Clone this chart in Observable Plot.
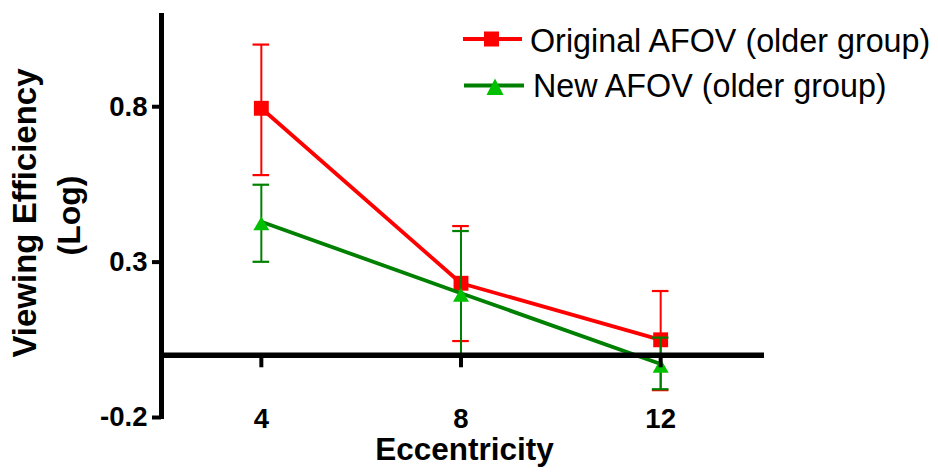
<!DOCTYPE html>
<html><head><meta charset="utf-8">
<script src="https://cdn.jsdelivr.net/npm/d3@7"></script>
<script src="https://cdn.jsdelivr.net/npm/@observablehq/plot@0.6"></script>
<style>
html,body{margin:0;padding:0;background:#fff;}
#wrap{position:relative;width:938px;height:476px;}
#legend{position:absolute;left:0;top:0;pointer-events:none;}
</style></head><body>
<div id="wrap"></div>
<script>
// ---- data ----
const eccentricity = [4, 8, 12];
const originalMean = [0.795, 0.232, 0.05];
const originalLow  = [0.58, 0.046, -0.112];
const originalHigh = [1.0, 0.416, 0.207];
const newMean = [0.43, 0.20, -0.028];
const newLow  = [0.301, 0.0, -0.109];
const newHigh = [0.549, 0.40, 0.057];
const xTickValues = [4, 8, 12];
const yTickValues = [-0.2, 0.3, 0.8];
const seriesNames = ["Original AFOV (older group)", "New AFOV (older group)"];
const xTitle = "Eccentricity";
const yTitleMain = "Viewing Efficiency";
const yTitleSub = "(Log)";
const xDomain = [2, 14];
const yDomain = [-0.2, 1.1];

const toRows = (name, mean, lo, hi) =>
  eccentricity.map((x, i) => ({series: name, x, y: mean[i], lo: lo[i], hi: hi[i]}));
const origRows = toRows(seriesNames[0], originalMean, originalLow, originalHigh);
const newRows = toRows(seriesNames[1], newMean, newLow, newHigh);

const RED = "#ff0000", GREEN_LINE = "#008000", GREEN_FILL = "#00c000";

function seriesMarks(data, lineColor, markerColor, symbol, r, markerDy) {
  return [
    Plot.ruleX(data, {x: "x", y1: "lo", y2: "hi", stroke: lineColor, strokeWidth: 2}),
    Plot.ruleY(data, {x1: "x", x2: "x", y: "hi", stroke: lineColor, strokeWidth: 2.2, insetLeft: -8.3, insetRight: -8.3}),
    Plot.ruleY(data, {x1: "x", x2: "x", y: "lo", stroke: lineColor, strokeWidth: 2.2, insetLeft: -8.3, insetRight: -8.3}),
    Plot.line(data, {x: "x", y: "y", stroke: lineColor, strokeWidth: 3.8}),
    Plot.dot(data, {x: "x", y: "y", symbol, r, dy: markerDy, fill: markerColor, stroke: "none"})
  ];
}

const chart = Plot.plot({
  width: 938,
  height: 476,
  marginLeft: 161,
  marginRight: 178,
  marginTop: 13,
  marginBottom: 59,
  x: {domain: xDomain},
  y: {domain: yDomain},
  style: {fontFamily: "'Liberation Sans', Arial, sans-serif", background: "white", color: "black"},
  marks: [
    ...seriesMarks(origRows, RED, RED, "square", 8.4, 0),
    ...seriesMarks(newRows, GREEN_LINE, GREEN_FILL, "triangle", 5.95, 4),
    // zero line and its ticks
    Plot.ruleY([0], {stroke: "black", strokeWidth: 5.5, insetRight: -4}),
    Plot.ruleX(xTickValues, {x: d => d, y1: 0, y2: -0.04, stroke: "black", strokeWidth: 4}),
    // y axis line
    Plot.ruleX([xDomain[0]], {stroke: "black", strokeWidth: 5, insetBottom: -2}),
    Plot.axisY(yTickValues, {tickSize: 9, tickPadding: 5, strokeWidth: 4, fontSize: 27.5, fontWeight: "bold", label: null, tickFormat: d => String(d)}),
    Plot.axisX(xTickValues, {tickSize: 0, tickPadding: -9, fontSize: 27.5, fontWeight: "bold", label: null}),
    Plot.text([xTitle], {frameAnchor: "bottom", textAnchor: "middle", dx: 3.5, dy: 32, lineAnchor: "middle", fontSize: 31.5, fontWeight: "bold", text: d => d}),
    Plot.text([yTitleMain], {frameAnchor: "left", textAnchor: "middle", rotate: -90, dx: -135.6, dy: -2.5, lineAnchor: "middle", fontSize: 33, fontWeight: "bold", text: d => d}),
    Plot.text([yTitleSub], {frameAnchor: "left", textAnchor: "middle", rotate: -90, dx: -92.2, dy: 0, lineAnchor: "middle", fontSize: 32, fontWeight: "bold", text: d => d})
  ]
});
document.getElementById("wrap").appendChild(chart);

// ---- legend (overlay) ----
const NS = "http://www.w3.org/2000/svg";
const leg = document.createElementNS(NS, "svg");
leg.setAttribute("id", "legend");
leg.setAttribute("width", 938);
leg.setAttribute("height", 476);
const legendItems = [
  {name: seriesNames[0], line: RED, fill: RED, shape: "square", cy: 39, lx1: 463, lx2: 522, mx: 491.5, tx: 530, ty: 51.5},
  {name: seriesNames[1], line: GREEN_LINE, fill: GREEN_FILL, shape: "triangle", cy: 85.5, lx1: 464, lx2: 524, mx: 495, tx: 533, ty: 96.7}
];
for (const it of legendItems) {
  const ln = document.createElementNS(NS, "line");
  ln.setAttribute("x1", it.lx1); ln.setAttribute("x2", it.lx2);
  ln.setAttribute("y1", it.cy); ln.setAttribute("y2", it.cy);
  ln.setAttribute("stroke", it.line); ln.setAttribute("stroke-width", 3.8);
  leg.appendChild(ln);
  if (it.shape === "square") {
    const r = document.createElementNS(NS, "rect");
    r.setAttribute("x", it.mx - 7.5); r.setAttribute("y", it.cy - 7.5);
    r.setAttribute("width", 15); r.setAttribute("height", 15);
    r.setAttribute("fill", it.fill);
    leg.appendChild(r);
  } else {
    const p = document.createElementNS(NS, "polygon");
    p.setAttribute("points", `${it.mx},${it.cy - 7} ${it.mx - 8.5},${it.cy + 9.5} ${it.mx + 8.5},${it.cy + 9.5}`);
    p.setAttribute("fill", it.fill);
    leg.appendChild(p);
  }
  const t = document.createElementNS(NS, "text");
  t.setAttribute("x", it.tx); t.setAttribute("y", it.ty);
  t.setAttribute("font-family", "'Liberation Sans', Arial, sans-serif");
  t.setAttribute("font-size", 32.3);
  t.setAttribute("fill", "black");
  t.textContent = it.name;
  leg.appendChild(t);
}
document.getElementById("wrap").appendChild(leg);
</script>
</body></html>
